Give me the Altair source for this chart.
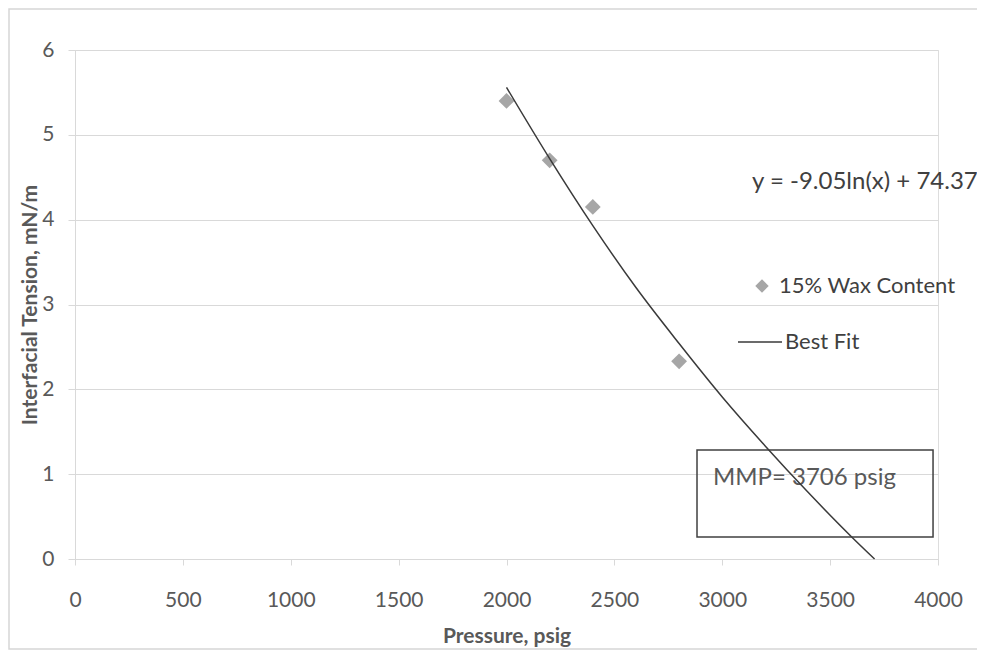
import altair as alt
import pandas as pd

# Measured points
pressure = [2000, 2200, 2400, 2800]
ift = [5.40, 4.70, 4.15, 2.33]
point_series = ["15% Wax Content"] * len(pressure)

# Best-fit curve
fit_pressure = [2000, 2200, 2400, 2600, 2800, 3000, 3200, 3400, 3600, 3706]
fit_ift = [5.56, 4.72, 3.93, 3.20, 2.54, 1.91, 1.33, 0.78, 0.26, 0.0]
fit_series = ["Best Fit"] * len(fit_pressure)

# Annotations
eq_text = ["y = -9.05ln(x) + 74.37"]
eq_x = [3138]
eq_y = [4.44]

mmp_text = ["MMP= 3706 psig"]
mmp_x = [2957]
mmp_y = [0.955]
box_x = [2883]
box_x2 = [3977]
box_y = [1.285]
box_y2 = [0.26]

x_ticks = [0, 500, 1000, 1500, 2000, 2500, 3000, 3500, 4000]
y_ticks = [0, 1, 2, 3, 4, 5, 6]

FONT = "Lato"
GRID = "#d9d9d9"
LABEL = "#595959"

pts = pd.DataFrame({"p": pressure, "ift": ift, "series": point_series})
fit = pd.DataFrame({"p": fit_pressure, "ift": fit_ift, "series": fit_series})
eq = pd.DataFrame({"p": eq_x, "ift": eq_y, "t": eq_text})
mmp = pd.DataFrame({"p": mmp_x, "ift": mmp_y, "t": mmp_text})
box = pd.DataFrame({"x": box_x, "x2": box_x2, "y": box_y, "y2": box_y2})
frame_df = pd.DataFrame({"k": [0]})

xscale = alt.Scale(domain=[0, 4000], nice=False)
yscale = alt.Scale(domain=[0, 6], nice=False)

xaxis = alt.Axis(
    title="Pressure, psig", values=x_ticks, grid=False, format="d",
    labelFlush=False,
    labelFont=FONT, labelFontSize=21, labelColor=LABEL, labelPadding=24,
    tickSize=6, tickColor=GRID, domainColor=GRID,
    titleFont=FONT, titleFontSize=21, titleFontWeight="bold", titleColor=LABEL,
    titlePadding=15,
)
yaxis = alt.Axis(
    title="Interfacial Tension, mN/m", values=y_ticks, grid=True, gridColor=GRID,
    format="d", labelFlush=False,
    labelFont=FONT, labelFontSize=21, labelColor=LABEL, labelPadding=14,
    tickSize=7, tickColor=GRID, domainColor=GRID,
    titleFont=FONT, titleFontSize=21, titleFontWeight="bold", titleColor=LABEL,
    titlePadding=1,
)

frame = alt.Chart(frame_df).mark_rect(
    fill=None, stroke="#d6d6d6", strokeWidth=1.5
).encode(
    x=alt.value(-66), x2=alt.value(905), y=alt.value(-41), y2=alt.value(599)
)

points = alt.Chart(pts).mark_point(
    shape="diamond", filled=True, size=250, color="#a6a6a6", opacity=1
).encode(
    x=alt.X("p:Q", scale=xscale, axis=xaxis),
    y=alt.Y("ift:Q", scale=yscale, axis=yaxis),
    shape=alt.Shape(
        "series:N", scale=alt.Scale(range=["diamond"]),
        legend=alt.Legend(
            title=None, orient="none", legendX=676, legendY=225, padding=0,
            symbolSize=180, symbolFillColor="#a6a6a6", symbolStrokeWidth=0,
            labelFont=FONT, labelFontSize=22, labelColor="#404040", labelOffset=6,
            labelLimit=400,
        ),
    ),
)

line = alt.Chart(fit).mark_line(strokeWidth=1.5, interpolate="monotone").encode(
    x=alt.X("p:Q", scale=xscale),
    y=alt.Y("ift:Q", scale=yscale),
    color=alt.Color(
        "series:N", scale=alt.Scale(range=["#3a3a3a"]),
        legend=alt.Legend(
            title=None, orient="none", legendX=662, legendY=269, padding=0,
            symbolType="stroke", symbolSize=1936, symbolStrokeWidth=1.5,
            labelFont=FONT, labelFontSize=22, labelColor="#404040", labelOffset=2,
            labelLimit=400,
        ),
    ),
)

eq_mark = alt.Chart(eq).mark_text(
    align="left", baseline="middle", font=FONT, fontSize=24, color="#404040"
).encode(x="p:Q", y="ift:Q", text="t:N")

box_mark = alt.Chart(box).mark_rect(
    fill=None, stroke="#404040", strokeWidth=1.5
).encode(x="x:Q", x2="x2:Q", y="y:Q", y2="y2:Q")

mmp_mark = alt.Chart(mmp).mark_text(
    align="left", baseline="middle", font=FONT, fontSize=24, color="#595959"
).encode(x="p:Q", y="ift:Q", text="t:N")

chart = alt.layer(frame, box_mark, mmp_mark, points, line, eq_mark).properties(
    width=863, height=509,
    autosize=alt.AutoSizeParams(type="none"),
    padding={"left": 67, "top": 42, "right": 39, "bottom": 91},
).configure_view(stroke=None).configure(background="white")

chart.save("out.html", embed_options={"renderer": "svg", "actions": False})
